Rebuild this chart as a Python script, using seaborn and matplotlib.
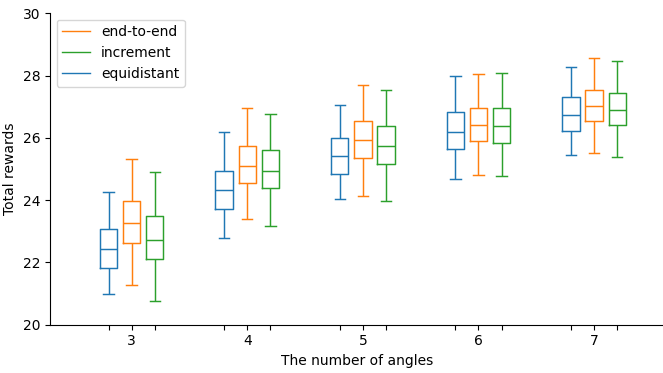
import numpy as np
import pandas as pd
import matplotlib
matplotlib.use("Agg")
import matplotlib.pyplot as plt
from matplotlib.lines import Line2D
import seaborn as sns

angles = ["3", "4", "5", "6", "7"]
methods = ["equidistant", "end-to-end", "increment"]
legend_order = ["end-to-end", "increment", "equidistant"]

# per angle: [lower whisker, Q1, median, Q3, upper whisker]
equidistant = [
    [21.00, 21.83, 22.43, 23.06, 24.27],
    [22.79, 23.71, 24.32, 24.95, 26.20],
    [24.05, 24.83, 25.43, 26.01, 27.06],
    [24.68, 25.65, 26.18, 26.82, 27.98],
    [25.45, 26.23, 26.73, 27.30, 28.29],
]
end_to_end = [
    [21.28, 22.61, 23.26, 23.96, 25.31],
    [23.40, 24.54, 25.10, 25.75, 26.97],
    [24.14, 25.34, 25.93, 26.54, 27.71],
    [24.82, 25.89, 26.40, 26.97, 28.06],
    [25.52, 26.54, 27.03, 27.55, 28.57],
]
increment = [
    [20.75, 22.12, 22.73, 23.50, 24.89],
    [23.18, 24.39, 24.95, 25.60, 26.77],
    [23.97, 25.17, 25.75, 26.39, 27.55],
    [24.78, 25.84, 26.37, 26.95, 28.07],
    [25.39, 26.42, 26.89, 27.45, 28.48],
]

series = {"equidistant": equidistant, "end-to-end": end_to_end, "increment": increment}
rows = []
for m in methods:
    for a, vals in zip(angles, series[m]):
        for v in vals:
            rows.append({"angle": a, "method": m, "reward": v})
df = pd.DataFrame(rows)

colors = {"equidistant": "#1f77b4", "end-to-end": "#ff7f0e", "increment": "#2ca02c"}

fig = plt.figure(figsize=(6.63, 3.73), dpi=100)
ax = fig.add_axes([50.3 / 663, (373 - 324.7) / 373, 1 - 50.3 / 663, (324.7 - 13.3) / 373])

width = 0.6
sns.boxplot(data=df, x="angle", y="reward", hue="method", order=angles,
            hue_order=methods, palette=colors, fill=False, width=width, gap=0.25,
            whis=(0, 100), linewidth=1.05, saturation=1, legend=False, ax=ax,
            capwidths=0.09)

n = len(methods)
offsets = [width / n * (k - (n - 1) / 2) for k in range(n)]
ticks, labels = [], []
for i, a in enumerate(angles):
    for k, off in enumerate(offsets):
        ticks.append(i + off)
        labels.append(a if k == 1 else "")
ax.set_xticks(ticks)
ax.set_xticklabels(labels)
ax.set_xlim(-0.704, 4.596)
ax.set_ylim(20, 30)
ax.set_yticks([20, 22, 24, 26, 28, 30])
ax.set_xlabel("The number of angles")
ax.set_ylabel("Total rewards")
sns.despine(ax=ax)

handles = [Line2D([0], [0], color=colors[m], lw=1) for m in legend_order]
ax.legend(handles, legend_order, loc="upper left", borderaxespad=0.45)

fig.savefig("out.png", dpi=100)
